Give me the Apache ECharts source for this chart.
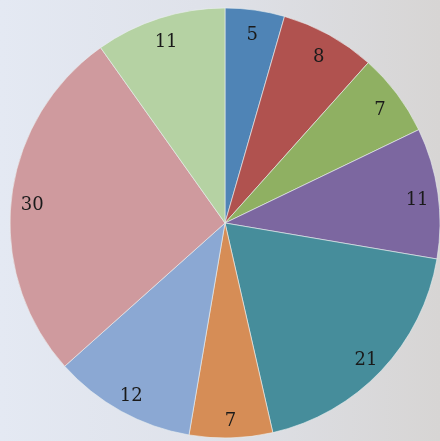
<!DOCTYPE html>
<html><head><meta charset="utf-8">
<script src="https://cdn.jsdelivr.net/npm/echarts@6/dist/echarts.min.js"></script>
<style>html,body{margin:0;padding:0;}#c{width:440px;height:441px;background:linear-gradient(90deg,#e4e9f3 0%,#dfe2ea 45%,#d7d5d4 100%);}</style>
</head><body><div id="c"></div>
<script>
const categories = ['A','B','C','D','E','F','G','H','I'];
const values = [5, 8, 7, 11, 21, 7, 12, 30, 11];
const colors = ['#4f84b6','#b0524f','#8fb062','#7c67a0','#468d9b','#d68d56','#8ba8d3','#cf9a9e','#b5d2a3'];

const data = categories.map((c, i) => ({ name: c, value: values[i], itemStyle: { color: colors[i] } }));
const chart = echarts.init(document.getElementById('c'));
chart.setOption({
  animation: false,
  series: [
    {
      type: 'pie', center: [225, 223], radius: [0, 215], startAngle: 90, clockwise: true,
      label: { show: false }, labelLine: { show: false },
      itemStyle: { borderColor: 'rgba(235,240,240,0.6)', borderWidth: 1 },
      data: data
    },
    {
      type: 'pie', center: [225, 227], radius: [169, 213], startAngle: 90, clockwise: true, silent: true,
      itemStyle: { color: 'rgba(0,0,0,0)', borderWidth: 0 },
      label: { show: true, position: 'inside', formatter: '{c}', color: '#1a1a1a', fontFamily: 'DejaVu Serif', fontSize: 18 },
      labelLine: { show: false },
      data: values.map((v, i) => ({ name: categories[i], value: v }))
    }
  ]
});
</script></body></html>
